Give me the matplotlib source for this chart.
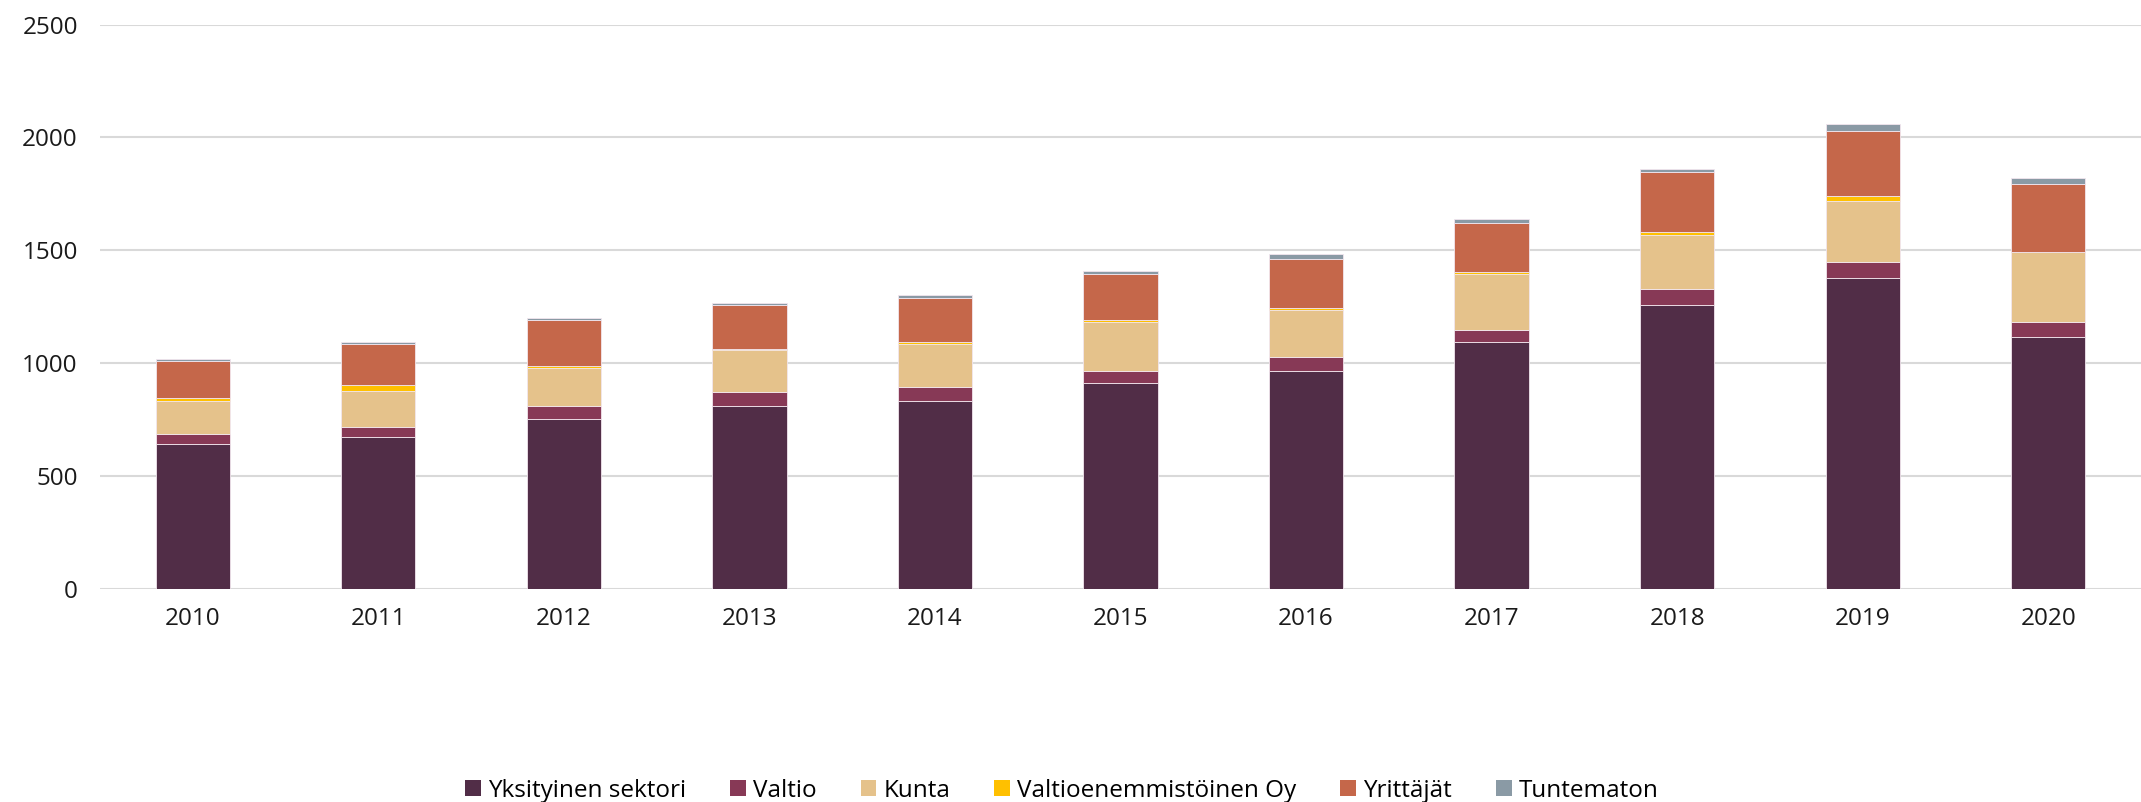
import matplotlib
matplotlib.use("Agg")
import matplotlib.pyplot as plt
from matplotlib.patches import Patch
import numpy as np

years = ["2010", "2011", "2012", "2013", "2014", "2015", "2016", "2017", "2018", "2019", "2020"]
series_names = ["Yksityinen sektori", "Valtio", "Kunta", "Valtioenemmistöinen Oy", "Yrittäjät", "Tuntematon"]
yksityinen = [642, 670, 753, 807, 833, 909, 966, 1091, 1259, 1378, 1113]
valtio = [44, 48, 54, 63, 60, 57, 62, 54, 70, 70, 69]
kunta = [146, 159, 170, 189, 189, 216, 206, 249, 240, 271, 308]
valtio_oy = [14, 26, 10, 5, 11, 10, 9, 7, 10, 21, 1]
yrittajat = [164, 179, 205, 193, 196, 203, 219, 218, 266, 287, 303]
tuntematon = [7, 12, 7, 7, 10, 11, 19, 21, 14, 34, 26]
yticks = [0, 500, 1000, 1500, 2000, 2500]

colors = ["#512D47", "#873956", "#E5C28B", "#FFC000", "#C5674A", "#8A9AA5"]
data = [yksityinen, valtio, kunta, valtio_oy, yrittajat, tuntematon]

plt.rcParams['font.family'] = ['Open Sans', 'DejaVu Sans']

fig = plt.figure(figsize=(21.41, 8.02), dpi=100)
ax = fig.add_axes([100/2141, 213.5/802, 1 - 100/2141, (588.5 - 24.6)/802])

x = np.arange(len(years))
bottom = np.zeros(len(years))
for name, vals, c in zip(series_names, data, colors):
    v = np.array(vals, dtype=float)
    ax.bar(x, v, 0.40, bottom=bottom, color=c, edgecolor="#f2e6ee", linewidth=0.6, zorder=3, label=name)
    bottom += v

ax.set_xlim(-0.5, len(years) - 0.5)
ax.set_ylim(0, 2500)
ax.set_yticks(yticks)
ax.set_yticklabels([str(t) for t in yticks])
ax.set_xticks(x)
ax.set_xticklabels(years)
ax.yaxis.grid(True, color="#d9d9d9", linewidth=1.5, zorder=0)
ax.set_axisbelow(True)
for s in ax.spines.values():
    s.set_visible(False)
ax.tick_params(axis="both", length=0, labelsize=17.5, colors="#1a1a1a")
ax.tick_params(axis="y", pad=16)
ax.tick_params(axis="x", pad=13)

handles = [Patch(facecolor=c, edgecolor="none") for c in colors]
fig.legend(handles, series_names, loc="center", bbox_to_anchor=(0.496, 0.014), ncol=6,
           frameon=False, fontsize=17.5, handlelength=0.65, handleheight=0.65,
           handletextpad=0.3, columnspacing=1.8)

fig.savefig("out.png", dpi=100, facecolor="white")
